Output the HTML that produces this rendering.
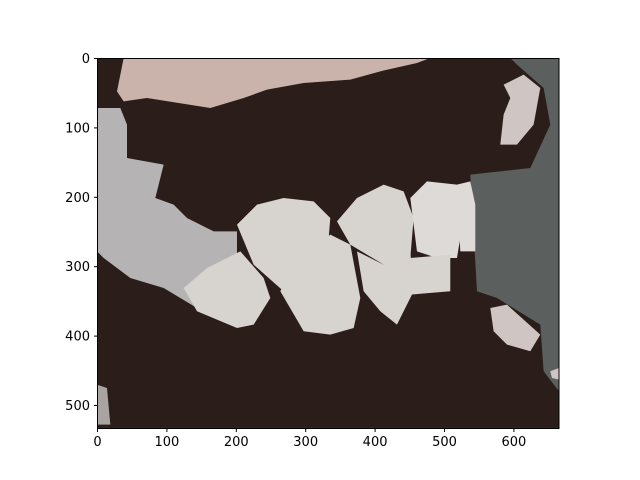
<!DOCTYPE html>
<html><head><meta charset="utf-8"><style>
body{margin:0;background:#fff}
svg{display:block}
text{font-family:"DejaVu Sans","Liberation Sans",sans-serif;font-size:13px;fill:#000}
</style></head><body>
<svg id="chart" width="640" height="480">
<g transform="translate(97,58) scale(0.3333)">
<rect x="0" y="0" width="1386" height="1110" fill="#2b1d19"/>
<polygon fill="#5b5f5e" points="1240,0 1386,0 1386,1000 1340,940 1330,800 1200,720 1140,700 1120,350 1300,330 1360,200 1340,90 1260,20"/>
<polygon fill="#c9b3ab" points="80,0 1000,0 960,15 850,40 760,65 620,75 510,95 440,120 340,150 150,120 80,130 60,100"/>
<polygon fill="#b5b3b4" points="0,150 70,150 90,200 90,300 200,320 175,420 230,440 270,480 350,520 420,520 420,700 350,780 200,690 100,660 20,600 0,580"/>
<g fill="#d7d3cf">
<polygon points="420,500 480,440 560,420 650,430 700,480 690,600 640,690 560,700 470,620"/>
<polygon points="720,490 780,420 860,380 920,400 950,480 940,600 860,620 760,560"/>
<polygon fill="#dedad7" points="940,420 990,370 1080,380 1100,480 1080,600 1020,600 960,580"/>
<polygon fill="#dedad7" points="1080,380 1120,370 1135,440 1135,580 1090,580"/>
<polygon points="260,690 330,630 430,580 500,660 520,720 470,800 420,810 300,760"/>
<polygon points="550,700 600,600 700,530 760,560 790,720 770,810 700,830 620,820"/>
<polygon points="780,580 860,620 940,580 950,700 900,800 850,760 800,700"/>
<polygon points="940,600 1060,590 1060,700 940,710"/>
</g>
<g fill="#cfc6c4">
<polygon points="1220,80 1280,50 1330,90 1310,200 1260,260 1210,260 1220,170 1240,120"/>
<polygon points="1180,750 1230,740 1330,830 1300,880 1230,860 1190,820"/>
<polygon points="1360,940 1386,930 1386,965 1365,960"/>
<polygon fill="#a9a3a1" points="0,980 30,990 40,1100 0,1100"/>
</g>
</g>
<rect x="97.5" y="58.5" width="461.5" height="370" fill="none" stroke="#000" stroke-width="1"/>
<g id="xt"></g>
<g id="yt"></g>
</svg>
<script>
const xTicks=[0,100,200,300,400,500,600];
const yTicks=[0,100,200,300,400,500];
const x0=97.5,y0=58.5,s=0.694;
const ns="http://www.w3.org/2000/svg";
const xg=document.getElementById('xt'),yg=document.getElementById('yt');
xTicks.forEach(v=>{
  const x=x0+v*s;
  const l=document.createElementNS(ns,'line');
  
  
  l.setAttribute('x1',x);l.setAttribute('x2',x);l.setAttribute('y1',428.5);l.setAttribute('y2',432);l.setAttribute('stroke','#000');
  xg.appendChild(l);
  const t=document.createElementNS(ns,'text');
  
  
  t.setAttribute('x',x);t.setAttribute('y',446);t.setAttribute('text-anchor','middle');
  t.textContent=v;xg.appendChild(t);
});
yTicks.forEach(v=>{
  const y=y0+v*s;
  const l=document.createElementNS(ns,'line');
  
  
  l.setAttribute('x1',94);l.setAttribute('x2',97.5);l.setAttribute('y1',y);l.setAttribute('y2',y);l.setAttribute('stroke','#000');
  yg.appendChild(l);
  const t=document.createElementNS(ns,'text');
  
  
  t.setAttribute('x',90);t.setAttribute('y',y+4.5);t.setAttribute('text-anchor','end');
  t.textContent=v;yg.appendChild(t);
});
</script>
</body></html>
